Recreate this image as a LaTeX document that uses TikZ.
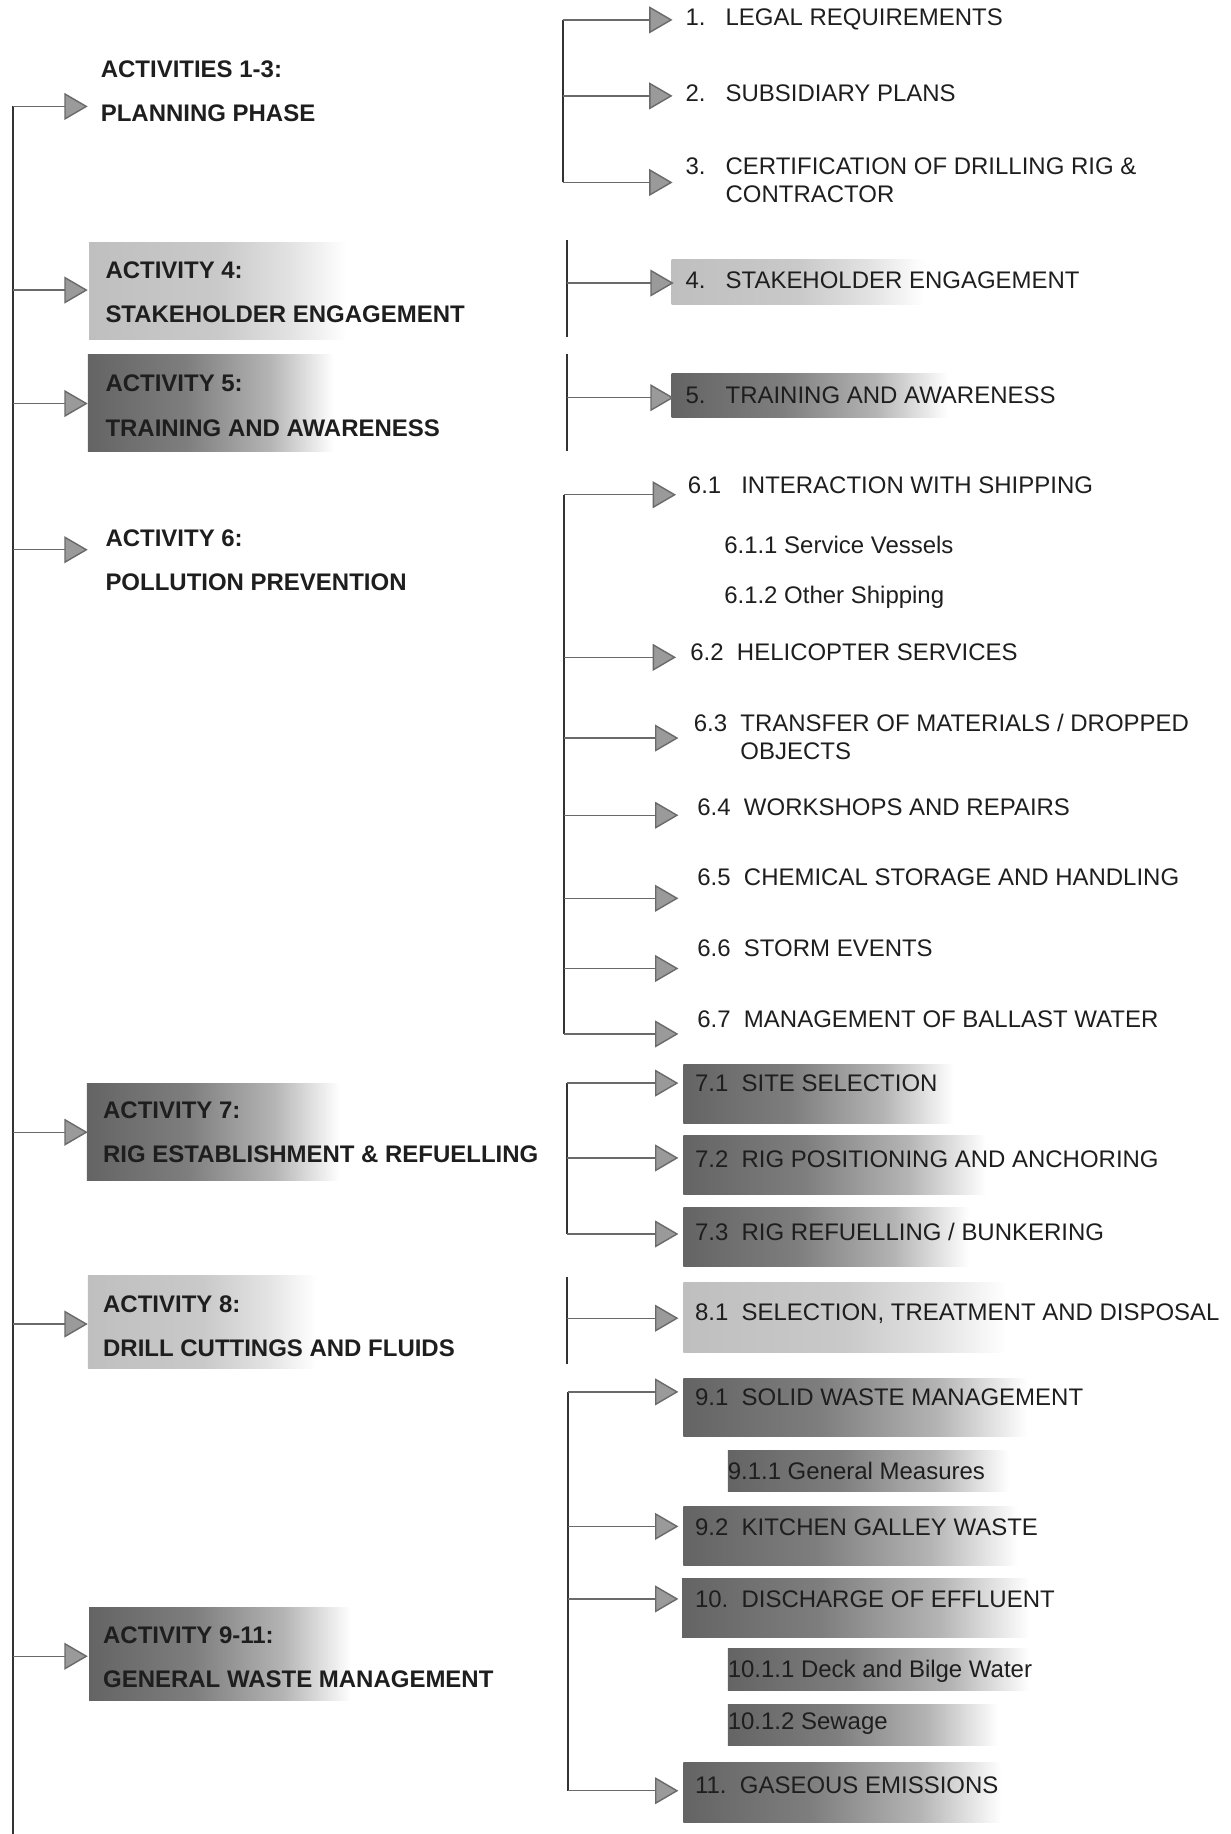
\documentclass[tikz,border=0pt]{standalone}
\usepackage{fontspec}
\setmainfont{Liberation Sans}
\usepackage{tikz}
\usetikzlibrary{arrows.meta}
\definecolor{Ink}{HTML}{1E1E1E}
\definecolor{Rule}{HTML}{333333}
\definecolor{Shaft}{HTML}{6A6A6A}
\definecolor{Head}{HTML}{9A9A9A}
\definecolor{DarkShade}{HTML}{646464}
\definecolor{DarkMid}{HTML}{7E7E7E}
\definecolor{DarkPale}{HTML}{B4B4B4}
\definecolor{LightShade}{HTML}{BFBFBF}
\definecolor{LightMid}{HTML}{C9C9C9}
\definecolor{LightPale}{HTML}{E2E2E2}
\pgfdeclarehorizontalshading{darkfade}{100bp}{color(0bp)=(DarkShade); color(25bp)=(DarkShade);
  color(45bp)=(DarkMid); color(62bp)=(DarkPale); color(75bp)=(white); color(100bp)=(white)}
\pgfdeclarehorizontalshading{lightfade}{100bp}{color(0bp)=(LightShade); color(25bp)=(LightShade);
  color(50bp)=(LightMid); color(64bp)=(LightPale); color(75bp)=(white); color(100bp)=(white)}

\begin{document}
\begin{tikzpicture}[x=1pt,y=-1pt,
rule/.style={draw=Rule,line width=1.7pt},
arr/.style={-{Triangle[length=20pt,width=23pt,fill=Head]},draw=Shaft,line width=1.2pt},
dark/.style={shading=darkfade,inner sep=0pt,anchor=north west},
light/.style={shading=lightfade,inner sep=0pt,anchor=north west},
act/.style={anchor=west,inner sep=0pt,align=left,text=Ink,font=\fontsize{20.5}{38}\selectfont\bfseries},
item/.style={anchor=west,inner sep=0pt,align=left,text=Ink,font=\fontsize{20.5}{24}\selectfont}]
\useasboundingbox (0,0) rectangle (1052,1568);
% shaded bands
\node[light,minimum width=220pt,minimum height=83pt] (b4) at (76,207) {};
\node[dark,minimum width=210pt,minimum height=83pt] (b5) at (75,303) {};
\node[dark,minimum width=216pt,minimum height=83pt] (b7) at (74,926) {};
\node[light,minimum width=195pt,minimum height=80pt] (b8) at (75,1090) {};
\node[dark,minimum width=224pt,minimum height=80pt] (b9) at (76,1374) {};
\node[light,minimum width=216pt,minimum height=38pt] (r4) at (574,222) {};
\node[dark,minimum width=236pt,minimum height=38pt] (r5) at (574,319) {};
\node[dark,minimum width=231pt,minimum height=50pt] (r71) at (584,910) {};
\node[dark,minimum width=259pt,minimum height=50pt] (r72) at (584,971) {};
\node[dark,minimum width=244pt,minimum height=51pt] (r73) at (584,1032) {};
\node[light,minimum width=276pt,minimum height=60pt] (r81) at (584,1096) {};
\node[dark,minimum width=294pt,minimum height=50pt] (r91) at (584,1178) {};
\node[dark,minimum width=240pt,minimum height=35pt] (r911) at (622,1240) {};
\node[dark,minimum width=286pt,minimum height=50pt] (r92) at (584,1288) {};
\node[dark,minimum width=297pt,minimum height=51pt] (r10) at (583,1349) {};
\node[dark,minimum width=258pt,minimum height=36pt] (r1011) at (622,1409) {};
\node[dark,minimum width=231pt,minimum height=35pt] (r1012) at (622,1457) {};
\node[dark,minimum width=272pt,minimum height=51pt] (r11) at (584,1507) {};
% activities
\node[act] (a13) at (86,78) {ACTIVITIES 1-3:\\PLANNING PHASE};
\node[act] (a4) at (90,250) {ACTIVITY 4:\\STAKEHOLDER ENGAGEMENT};
\node[act] (a5) at (90,347) {ACTIVITY 5:\\TRAINING AND AWARENESS};
\node[act] (a6) at (90,479) {ACTIVITY 6:\\POLLUTION PREVENTION};
\node[act] (a7) at (88,968) {ACTIVITY 7:\\RIG ESTABLISHMENT \& REFUELLING};
\node[act] (a8) at (88,1134) {ACTIVITY 8:\\DRILL CUTTINGS AND FLUIDS};
\node[act] (a9) at (88,1417) {ACTIVITY 9-11:\\GENERAL WASTE MANAGEMENT};
% items
\node[item] (i1) at (586,17) {1.~~~LEGAL REQUIREMENTS};
\node[item] (i2) at (586,80) {2.~~~SUBSIDIARY PLANS};
\node[item] (i3) at (586,154) {3.~~~CERTIFICATION OF DRILLING RIG \&\\\phantom{3.~~~}CONTRACTOR};
\node[item] (i4) at (586,240) {4.~~~STAKEHOLDER ENGAGEMENT};
\node[item] (i5) at (586,338) {5.~~~TRAINING AND AWARENESS};
\node[item] (i61) at (588,415) {6.1~~~INTERACTION WITH SHIPPING};
\node[item] (i611) at (619,466) {6.1.1 Service Vessels};
\node[item] (i612) at (619,511) {6.1.2 Other Shipping};
\node[item] (i62) at (590,558) {6.2~~HELICOPTER SERVICES};
\node[item] (i63) at (593,630) {6.3~~TRANSFER OF MATERIALS / DROPPED\\\phantom{6.3~~}OBJECTS};
\node[item] (i64) at (596,690) {6.4~~WORKSHOPS AND REPAIRS};
\node[item] (i65) at (596,750) {6.5~~CHEMICAL STORAGE AND HANDLING};
\node[item] (i66) at (596,811) {6.6~~STORM EVENTS};
\node[item] (i67) at (596,871) {6.7~~MANAGEMENT OF BALLAST WATER};
\node[item] (i71) at (594,926) {7.1~~SITE SELECTION};
\node[item] (i72) at (594,991) {7.2~~RIG POSITIONING AND ANCHORING};
\node[item] (i73) at (594,1053) {7.3~~RIG REFUELLING / BUNKERING};
\node[item] (i81) at (594,1123) {8.1~~SELECTION, TREATMENT AND DISPOSAL};
\node[item] (i91) at (594,1195) {9.1~~SOLID WASTE MANAGEMENT};
\node[item] (i911) at (622,1258) {9.1.1 General Measures};
\node[item] (i92) at (594,1306) {9.2~~KITCHEN GALLEY WASTE};
\node[item] (i10) at (594,1367) {10.~~DISCHARGE OF EFFLUENT};
\node[item] (i1011) at (622,1429) {10.1.1 Deck and Bilge Water};
\node[item] (i1012) at (622,1474) {10.1.2 Sewage};
\node[item] (i11) at (594,1526) {11.~~GASEOUS EMISSIONS};
% spine and left arrows
\coordinate (s13) at (11,91); \coordinate (t13) at (75,91);
\coordinate (s4) at (11,248); \coordinate (t4) at (75,248);
\coordinate (s5) at (11,345); \coordinate (t5) at (75,345);
\coordinate (s6) at (11,470); \coordinate (t6) at (75,470);
\coordinate (s7) at (11,968); \coordinate (t7) at (75,968);
\coordinate (s8) at (11,1132); \coordinate (t8) at (75,1132);
\coordinate (s9) at (11,1416); \coordinate (t9) at (75,1416);
\coordinate (send) at (11,1568);
\draw[rule] (s13) -- (send);
\draw[arr] (s13) -- (t13); \draw[arr] (s4) -- (t4); \draw[arr] (s5) -- (t5);
\draw[arr] (s6) -- (t6); \draw[arr] (s7) -- (t7); \draw[arr] (s8) -- (t8);
\draw[arr] (s9) -- (t9);
% right brackets
\coordinate (g1) at (481,17); \coordinate (g2) at (481,82); \coordinate (g3) at (481,156);
\coordinate (h1) at (575,17); \coordinate (h2) at (575,82); \coordinate (h3) at (575,156);
\draw[rule] (g1) -- (g3);
\draw[arr] (g1) -- (h1); \draw[arr] (g2) -- (h2); \draw[arr] (g3) -- (h3);
\coordinate (g4a) at (485,205); \coordinate (g4) at (485,242); \coordinate (g4b) at (485,288);
\coordinate (h4) at (576,242);
\draw[rule] (g4a) -- (g4b); \draw[arr] (g4) -- (h4);
\coordinate (g5a) at (485,303); \coordinate (g5) at (485,340); \coordinate (g5b) at (485,386);
\coordinate (h5) at (576,340);
\draw[rule] (g5a) -- (g5b); \draw[arr] (g5) -- (h5);
\coordinate (g61) at (482,423); \coordinate (h61) at (578,423);
\coordinate (g62) at (482,562); \coordinate (h62) at (578,562);
\coordinate (g63) at (482,631); \coordinate (h63) at (580,631);
\coordinate (g64) at (482,697); \coordinate (h64) at (580,697);
\coordinate (g65) at (482,768); \coordinate (h65) at (580,768);
\coordinate (g66) at (482,828); \coordinate (h66) at (580,828);
\coordinate (g67) at (482,884); \coordinate (h67) at (580,884);
\draw[rule] (g61) -- (g67);
\draw[arr] (g61) -- (h61); \draw[arr] (g62) -- (h62); \draw[arr] (g63) -- (h63);
\draw[arr] (g64) -- (h64); \draw[arr] (g65) -- (h65); \draw[arr] (g66) -- (h66);
\draw[arr] (g67) -- (h67);
\coordinate (g71) at (485,926); \coordinate (h71) at (580,926);
\coordinate (g72) at (485,990); \coordinate (h72) at (580,990);
\coordinate (g73) at (485,1055); \coordinate (h73) at (580,1055);
\draw[rule] (g71) -- (g73);
\draw[arr] (g71) -- (h71); \draw[arr] (g72) -- (h72); \draw[arr] (g73) -- (h73);
\coordinate (g8a) at (485,1092); \coordinate (g8) at (485,1127); \coordinate (g8b) at (485,1166);
\coordinate (h8) at (580,1127);
\draw[rule] (g8a) -- (g8b); \draw[arr] (g8) -- (h8);
\coordinate (g91) at (486,1190); \coordinate (h91) at (580,1190);
\coordinate (g92) at (486,1305); \coordinate (h92) at (580,1305);
\coordinate (g10) at (486,1367); \coordinate (h10) at (580,1367);
\coordinate (g11) at (486,1531); \coordinate (h11) at (580,1531);
\draw[rule] (g91) -- (g11);
\draw[arr] (g91) -- (h91); \draw[arr] (g92) -- (h92); \draw[arr] (g10) -- (h10);
\draw[arr] (g11) -- (h11);
\end{tikzpicture}
\end{document}
